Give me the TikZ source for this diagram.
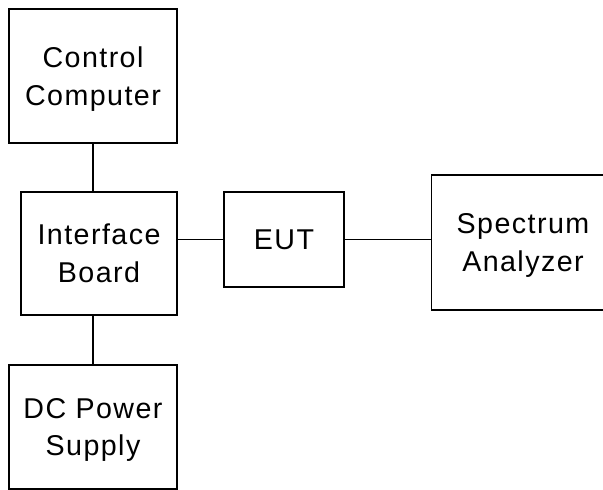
\documentclass[tikz,border=0pt]{standalone}
\usepackage{fontspec}
\setmainfont[LetterSpace=5]{Liberation Sans}
\usepackage{tikz}
\usetikzlibrary{calc, positioning}

\begin{document}
\begin{tikzpicture}[
    x=0.02cm, y=-0.02cm,
    line width=1.1pt,
    blk/.style={draw, rectangle, inner sep=0pt, outer sep=0pt, align=center,
                text depth=0pt, font=\fontsize{16.3}{21.5}\selectfont}
  ]
  \useasboundingbox (0,0) rectangle (603,490);

  \draw( 93, 76)   node[blk, minimum width=3.36cm, minimum height=2.68cm] (cc)  {Control\\Computer};
  \draw( 99,253.5) node[blk, minimum width=3.12cm, minimum height=2.46cm] (ib)  {Interface\\Board};
  \draw( 93,427)   node[blk, minimum width=3.36cm, minimum height=2.48cm] (dc)  {DC Power\\Supply};
  \draw(284,239.5) node[blk, minimum width=2.40cm, minimum height=1.90cm] (eut) {EUT};
  \draw(523,242.5) node[blk, minimum width=3.66cm, minimum height=2.70cm] (sa)  {Spectrum\\Analyzer};

  \draw[] (cc.south) -- (cc.south |- ib.north);
  \draw[] (dc.north |- ib.south) -- (dc.north);
  \draw[] (eut.west -| ib.east) -- (eut.west);
  \draw[] (eut.east) -- (eut.east -| sa.west);

\end{tikzpicture}
\end{document}
